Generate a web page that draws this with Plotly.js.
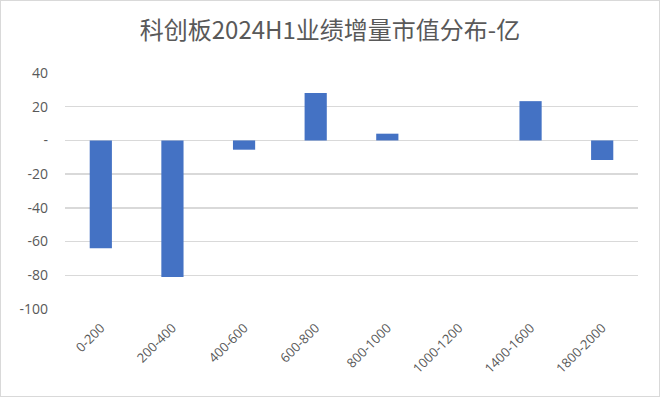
<!DOCTYPE html>
<html>
<head>
<meta charset="utf-8">
<script src="https://cdn.plot.ly/plotly-3.0.1.min.js"></script>
<style>
html,body{margin:0;padding:0;background:#fff;}
#chart{width:658px;height:395px;border:1px solid #d9d9d9;}
</style>
</head>
<body>
<div id="chart"></div>
<script>
const categories = ["0-200","200-400","400-600","600-800","800-1000","1000-1200","1400-1600","1800-2000"];
const values = [-64, -81, -5.5, 28.2, 4, 0, 23.3, -11.6];
const yTickVals = [40, 20, 0, -20, -40, -60, -80, -100];
const yTickText = ["40", "20", "-", "-20", "-40", "-60", "-80", "-100"];

const trace = {
  type: "bar",
  x: categories,
  y: values,
  width: 0.31,
  marker: {color: "#4472C4"},
  hoverinfo: "x+y"
};

const layout = {
  width: 658,
  height: 395,
  margin: {l: 64, r: 21, t: 71.5, b: 87},
  paper_bgcolor: "#ffffff",
  plot_bgcolor: "#ffffff",
  showlegend: false,
  title: {
    text: "科创板2024H1业绩增量市值分布-亿",
    font: {family: "'Noto Sans CJK SC', 'Noto Sans', sans-serif", size: 24, color: "#595959"},
    x: 0.5, xanchor: "center",
    y: 0.925, yanchor: "middle"
  },
  xaxis: {
    type: "category",
    tickangle: -45,
    showgrid: false,
    zeroline: false,
    showline: false,
    ticks: "",
    ticklabelstandoff: 8,
    tickfont: {family: "'Open Sans', 'Liberation Sans', sans-serif", size: 13, color: "#595959"}
  },
  yaxis: {
    range: [-100, 40],
    tickvals: yTickVals,
    ticktext: yTickText,
    showgrid: true,
    gridcolor: "#d9d9d9",
    gridwidth: 1.3,
    zeroline: false,
    showline: false,
    ticks: "",
    ticklabelstandoff: 16,
    tickfont: {family: "'Open Sans', 'Liberation Sans', sans-serif", size: 14, color: "#595959"}
  }
};

Plotly.newPlot("chart", [trace], layout, {displayModeBar: false, staticPlot: true});
</script>
</body>
</html>
